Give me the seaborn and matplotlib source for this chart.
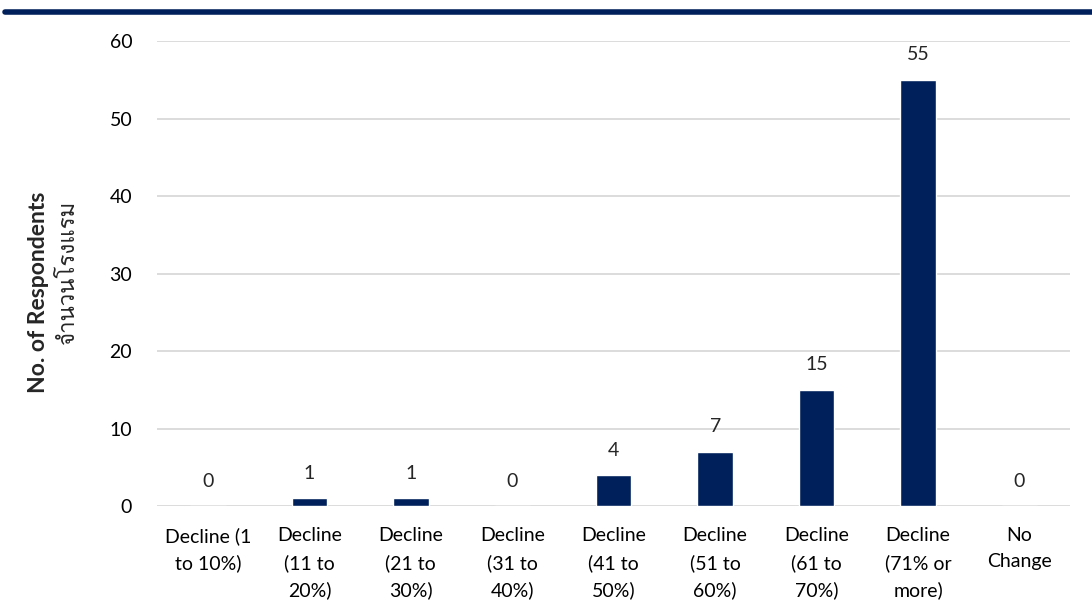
import matplotlib
matplotlib.use("Agg")
import matplotlib.pyplot as plt
from matplotlib import font_manager
import seaborn as sns
import pandas as pd

categories = ["Decline (1\nto 10%)", "Decline\n(11 to\n20%)", "Decline\n(21 to\n30%)",
              "Decline\n(31 to\n40%)", "Decline\n(41 to\n50%)", "Decline\n(51 to\n60%)",
              "Decline\n(61 to\n70%)", "Decline\n(71% or\nmore)", "No\nChange"]
respondents = [0, 1, 1, 0, 4, 7, 15, 55, 0]
y_ticks = [0, 10, 20, 30, 40, 50, 60]
thai_label = "จำนวนโรงแรม"

navy = "#00205b"


def find_thai_family():
    # look through installed fonts for one that has Thai glyphs
    try:
        from fontTools.ttLib import TTFont
    except ImportError:
        return None
    for f in font_manager.fontManager.ttflist:
        try:
            tt = TTFont(f.fname, fontNumber=0, lazy=True)
            cmap = tt.getBestCmap()
            if cmap and all(ord(c) in cmap for c in thai_label):
                return f.name
        except Exception:
            continue
    return None


sns.set_theme(style="white")
plt.rcParams["font.family"] = ["Lato", "Noto Sans", "DejaVu Sans"]
thai_font = find_thai_family()
thai_families = [thai_font, "DejaVu Sans"] if thai_font else ["DejaVu Sans"]

df = pd.DataFrame({"cat": categories, "n": respondents})

fig = plt.figure(figsize=(10.92, 6.07), dpi=100)
ax = fig.add_axes([0.144, 0.166, 0.836, 0.766])

sns.barplot(data=df, x="cat", y="n", color=navy, width=0.35, saturation=1, ax=ax)

ax.set_ylim(0, 60)
ax.set_yticks(y_ticks)
ax.yaxis.grid(True, color="#d9d9d9", linewidth=1.3)
ax.set_axisbelow(True)
for s in ax.spines.values():
    s.set_visible(False)
ax.tick_params(axis="both", length=0, labelsize=14, colors="black")
ax.tick_params(axis="y", pad=18)
ax.tick_params(axis="x", pad=15)
for lbl in ax.get_xticklabels():
    lbl.set_linespacing(1.65)
ax.set_xlabel("")
ax.set_ylabel("")

for i, v in enumerate(respondents):
    ax.annotate(str(v), (i, v), xytext=(0, 12), textcoords="offset points",
                ha="center", va="bottom", fontsize=14)

fig.text(0.035, 0.519, "No. of Respondents", rotation=90, ha="center", va="center",
         fontsize=16.5, fontweight="bold")
fig.text(0.063, 0.552, thai_label, rotation=90, ha="center", va="center",
         fontsize=16, family=thai_families)

fig.add_artist(plt.Line2D([0.005, 1.0], [0.981, 0.981], color=navy, linewidth=4,
                          transform=fig.transFigure))

fig.savefig("out.png", dpi=100)
